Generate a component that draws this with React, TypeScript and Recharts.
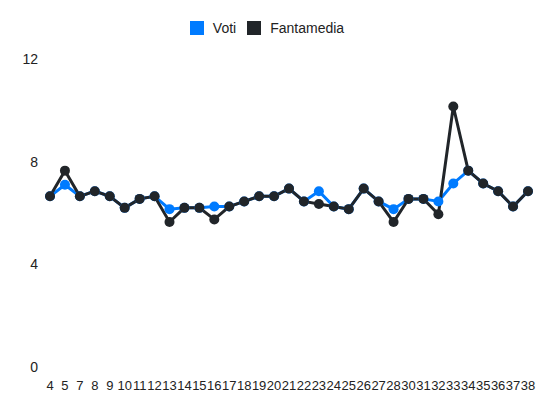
import React from 'react';
import { LineChart, Line, XAxis, YAxis, Legend } from 'recharts';

const rounds = ['4','5','7','8','9','10','11','12','13','14','15','16','17','18','19','20','21','22','23','24','25','26','27','28','30','31','32','33','34','35','36','37','38'];
const voti = [6.65, 7.1, 6.65, 6.85, 6.65, 6.2, 6.55, 6.65, 6.15, 6.2, 6.2, 6.25, 6.25, 6.45, 6.65, 6.65, 6.95, 6.45, 6.85, 6.25, 6.15, 6.95, 6.45, 6.15, 6.55, 6.55, 6.45, 7.15, 7.65, 7.15, 6.85, 6.25, 6.85];
const fantamedia = [6.65, 7.65, 6.65, 6.85, 6.65, 6.2, 6.55, 6.65, 5.65, 6.2, 6.2, 5.75, 6.25, 6.45, 6.65, 6.65, 6.95, 6.45, 6.35, 6.25, 6.15, 6.95, 6.45, 5.65, 6.55, 6.55, 5.95, 10.15, 7.65, 7.15, 6.85, 6.25, 6.85];
const yTicks = [0, 4, 8, 12];

const BLUE = '#007bff';
const DARK = '#212529';

const data = rounds.map((r, i) => ({ round: r, voti: voti[i], fantamedia: fantamedia[i] }));

const legendItems = [
  { label: 'Voti', color: BLUE },
  { label: 'Fantamedia', color: DARK },
];

const LegendContent = () => (
  <div style={{ display: 'flex', justifyContent: 'center', alignItems: 'center', height: 24 }}>
    {legendItems.map((it, i) => (
      <div key={it.label} style={{ display: 'flex', alignItems: 'center', marginLeft: i === 0 ? 0 : 11 }}>
        <div style={{ width: 14, height: 14, background: it.color, marginRight: 9 }} />
        <span style={{ fontSize: 14, color: '#222' }}>{it.label}</span>
      </div>
    ))}
  </div>
);

export default function App() {
  return (
    <div style={{ width: 542, height: 404, fontFamily: '"Liberation Sans", Arial, sans-serif' }}>
      <LineChart width={542} height={404} data={data} margin={{ top: 27, right: 22, bottom: 15, left: 0 }}>
        <Legend verticalAlign="top" content={<LegendContent />} wrapperStyle={{ top: 8, left: -12, width: 542 }} />
        <XAxis
          dataKey="round"
          interval={0}
          tickLine={false}
          axisLine={false}
          tickSize={0}
          tickMargin={14}
          height={30}
          tick={{ fontSize: 13, fill: '#222' }}
        />
        <YAxis
          domain={[0, 12]}
          ticks={yTicks}
          tickLine={false}
          axisLine={false}
          tickSize={0}
          tickMargin={12}
          width={42}
          tick={{ fontSize: 14, fill: '#222' }}
        />
        <Line
          type="linear"
          dataKey="voti"
          stroke={BLUE}
          strokeWidth={3}
          dot={{ r: 5, fill: BLUE, stroke: BLUE, strokeWidth: 0 }}
          activeDot={false}
          isAnimationActive={false}
        />
        <Line
          type="linear"
          dataKey="fantamedia"
          stroke={DARK}
          strokeWidth={3}
          dot={{ r: 5, fill: DARK, stroke: DARK, strokeWidth: 0 }}
          activeDot={false}
          isAnimationActive={false}
        />
      </LineChart>
    </div>
  );
}
